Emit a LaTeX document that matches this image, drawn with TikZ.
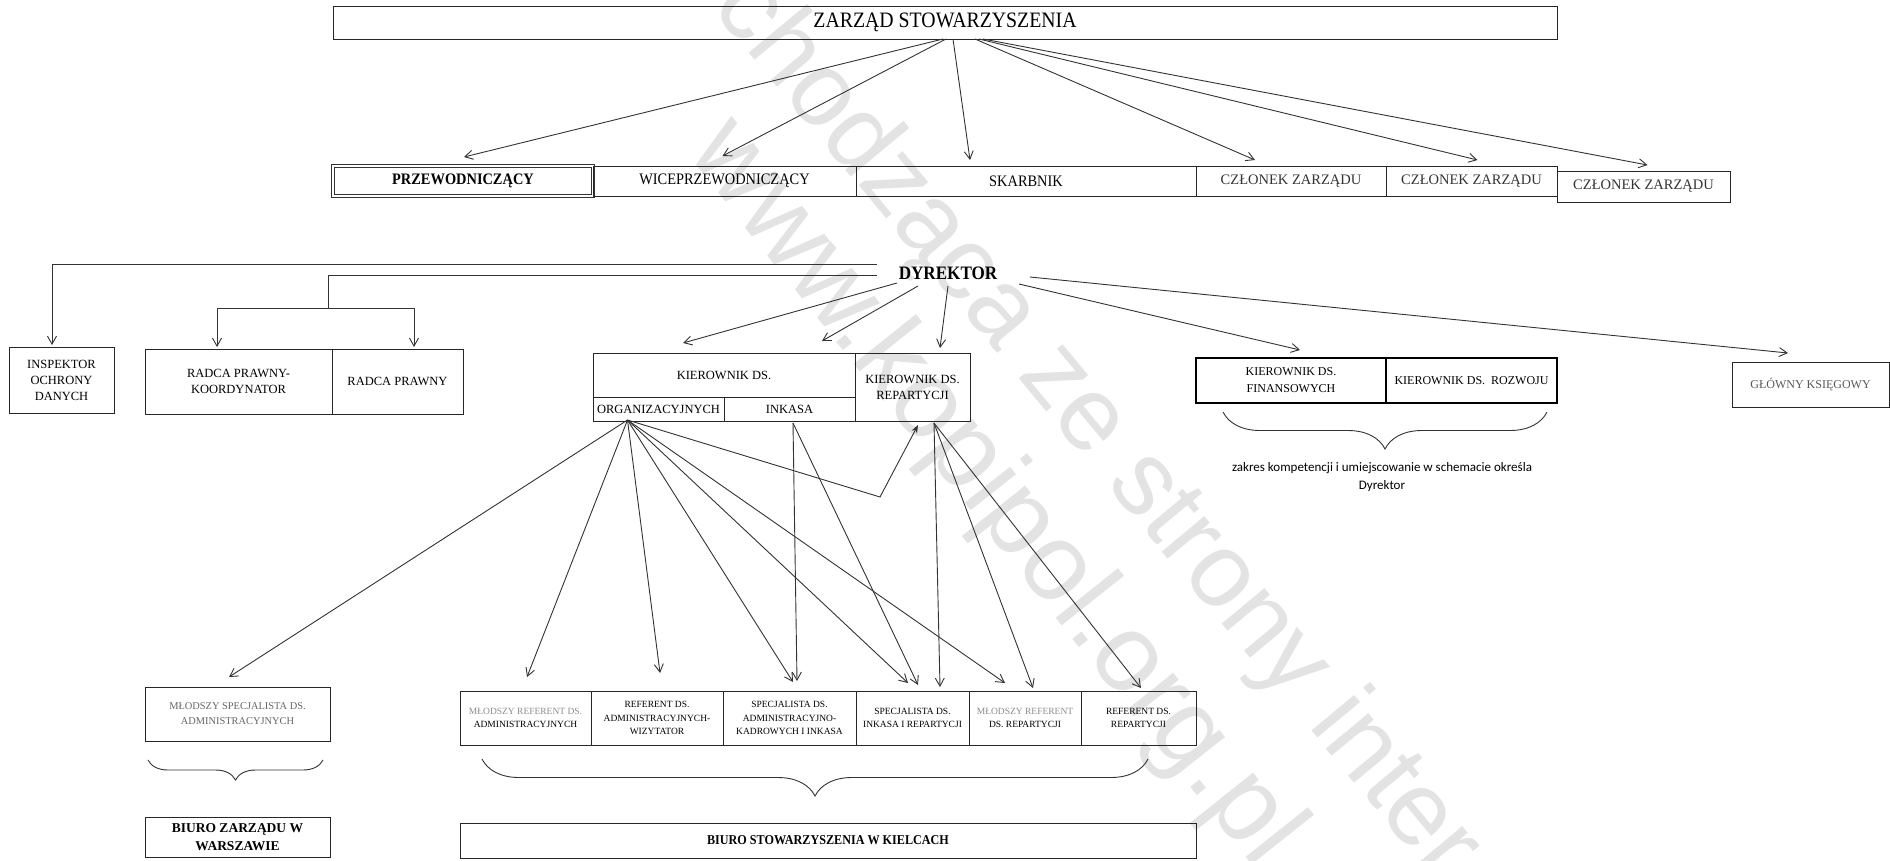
\documentclass[tikz,border=0pt]{standalone}
\usepackage{fontspec}
\setmainfont{Liberation Serif}
\newfontfamily\cond[FakeStretch=0.9]{Liberation Serif}
\newfontfamily\calib{Carlito}
\newfontfamily\wmfont{Liberation Sans}
\usetikzlibrary{arrows.meta,calc,decorations.pathreplacing}
\begin{document}
\begin{tikzpicture}[x=1pt,y=-1pt,
  ln/.style={line width=0.9pt, draw=black!80},
  arr/.style={ln, -{Straight Barb[length=8pt,width=9pt]}},
  farr/.style={ln, -{Stealth[length=8pt,width=6pt]}},
  box/.style={draw=black!85, line width=0.9pt, inner sep=0pt, outer sep=0pt, align=center, anchor=north west},
  thick box/.style={box, line width=2pt, draw=black},
  dbl box/.style={box, double=white, double distance=1.6pt, line width=0.9pt, draw=black!80},
  bigtxt/.style={font=\cond\fontsize{22}{26}\selectfont},
  rowtxt/.style={font=\cond\fontsize{16}{19}\selectfont},
  midtxt/.style={font=\fontsize{12.5}{16}\selectfont},
  smtxt/.style={font=\fontsize{9.5}{13.5}\selectfont},
  brc/.style={ln, decorate},
  wm/.style={text=gray!22, inner sep=0pt}
]
\useasboundingbox[fill=white] (0,0) rectangle (1890,860);

% watermark
\node[wm, font=\wmfont\fontsize{105}{105}\selectfont, rotate=-50.3] (wma) at (1095,428) {chodząca ze strony inter};
\node[wm, font=\wmfont\fontsize{110}{110}\selectfont, rotate=-51.5] (wmb) at (994,494) {www.kopipol.org.pl};

% top level
\node[box, minimum width=1224pt, minimum height=33pt, bigtxt] (zarzad) at (333,6) {ZARZĄD STOWARZYSZENIA};

% board row
\node[dbl box, minimum width=260pt, minimum height=30pt, rowtxt] (p1) at (333,166) {\bfseries PRZEWODNICZĄCY};
\node[box, minimum width=263pt, minimum height=30pt, rowtxt] (p2) at (593,166) {WICEPRZEWODNICZĄCY};
\node[box, minimum width=340pt, minimum height=30pt, rowtxt] (p3) at (856,166) {SKARBNIK};
\node[box, minimum width=190pt, minimum height=30pt, font=\fontsize{14.5}{17}\selectfont, text=black!80] (p4) at (1196,166) {CZŁONEK ZARZĄDU};
\node[box, minimum width=171pt, minimum height=30pt, font=\fontsize{14.5}{17}\selectfont, text=black!80] (p5) at (1386,166) {CZŁONEK ZARZĄDU};
\node[box, minimum width=173pt, minimum height=31pt, font=\fontsize{14.5}{17}\selectfont, text=black!80] (p6) at (1557,171) {CZŁONEK ZARZĄDU};

\draw[arr] ($(zarzad.south)+(-2,0)$) -- ($(p1.north)+(1,-9)$);
\draw[arr] ($(zarzad.south)+(1,0)$) -- ($(p2.north)+(-2,-10)$);
\draw[arr] ($(zarzad.south)+(8,0)$) -- ($(p3.north)+(-56,-6)$);
\draw[arr] ($(zarzad.south)+(30,0)$) -- ($(p4.north)+(-36,-6)$);
\draw[arr] ($(zarzad.south)+(34,0)$) -- ($(p5.north)+(6,-6)$);
\draw[arr] ($(zarzad.south)+(38,0)$) -- ($(p6.north)+(4,-6)$);

% director
\node[font=\cond\bfseries\fontsize{19}{22}\selectfont, inner sep=0pt] (dyr) at (948,273) {DYREKTOR};

% left side
\node[box, minimum width=105pt, minimum height=66pt, midtxt] (insp) at (9,347) {INSPEKTOR\\OCHRONY\\DANYCH};
\node[box, minimum width=187pt, minimum height=65pt, midtxt] (radk) at (145,349) {RADCA PRAWNY-\\KOORDYNATOR};
\node[box, minimum width=131pt, minimum height=65pt, midtxt] (radp) at (332,349) {RADCA PRAWNY};

\coordinate (rj) at (328,308);
\draw[arr] ($(dyr)+(-71,-9)$) -| ($(insp.north)+(-9.5,-2)$);
\draw[ln] ($(dyr)+(-71,2)$) -| (rj);
\draw[arr] (rj) -| ($(radk.north)+(-21.5,-2)$);
\draw[arr] (rj) -| ($(radp.north)+(16.5,-2)$);

% managers
\node[box, minimum width=262pt, minimum height=44pt, midtxt] (kbig) at (593,353) {KIEROWNIK DS.};
\node[box, minimum width=131pt, minimum height=24pt, midtxt] (korg) at (593,397) {ORGANIZACYJNYCH};
\node[box, minimum width=131pt, minimum height=24pt, midtxt] (kink) at (724,397) {INKASA};
\node[box, minimum width=115pt, minimum height=68pt, midtxt] (krep) at (855,353) {KIEROWNIK DS.\\REPARTYCJI};
\node[thick box, minimum width=190pt, minimum height=45pt, font=\fontsize{12}{17}\selectfont] (kfin) at (1196,358) {KIEROWNIK DS.\\FINANSOWYCH};
\node[thick box, minimum width=171pt, minimum height=45pt, font=\fontsize{12}{17}\selectfont] (kroz) at (1386,358) {KIEROWNIK DS.\ \ ROZWOJU};
\node[box, minimum width=157pt, minimum height=45pt, font=\fontsize{12}{17}\selectfont, text=black!65] (ksieg) at (1732,362) {GŁÓWNY KSIĘGOWY};

\draw[arr] ($(dyr)+(-51,10)$) -- ($(kbig.north)+(-41,-10)$);
\draw[arr] ($(dyr)+(-30,13)$) -- ($(kbig.north)+(98,-12)$);
\draw[arr] ($(dyr)+(0,13)$) -- ($(krep.north)+(27.5,-5)$);
\draw[arr] ($(dyr)+(71,11)$) -- ($(kfin.north)+(9,-8)$);
\draw[arr] ($(dyr)+(82,4)$) -- ($(ksieg.north)+(-22.5,-9)$);

\draw[brc, decoration={brace, mirror, amplitude=37pt}] (1223,412) -- (1547,412);
\node[font=\calib\fontsize{13}{18}\selectfont, align=center, inner sep=0pt] (zakres) at (1382,477) {zakres kompetencji i umiejscowanie w schemacie określa\\Dyrektor};

% staff row
\node[box, minimum width=185pt, minimum height=54pt, font=\fontsize{10.4}{15}\selectfont, text=black!60] (spec) at (145,687) {MŁODSZY SPECJALISTA DS.\\ADMINISTRACYJNYCH};
\node[box, minimum width=131pt, minimum height=54pt, smtxt] (b1) at (460,691) {\textcolor{black!45}{MŁODSZY REFERENT DS.}\\ADMINISTRACYJNYCH};
\node[box, minimum width=132pt, minimum height=54pt, smtxt] (b2) at (591,691) {REFERENT DS.\\ADMINISTRACYJNYCH-\\WIZYTATOR};
\node[box, minimum width=133pt, minimum height=54pt, smtxt] (b3) at (723,691) {SPECJALISTA DS.\\ADMINISTRACYJNO-\\KADROWYCH I INKASA};
\node[box, minimum width=113pt, minimum height=54pt, smtxt] (b4) at (856,691) {SPECJALISTA DS.\\INKASA I REPARTYCJI};
\node[box, minimum width=112pt, minimum height=54pt, smtxt] (b5) at (969,691) {\textcolor{black!45}{MŁODSZY REFERENT}\\DS. REPARTYCJI};
\node[box, minimum width=115pt, minimum height=54pt, smtxt] (b6) at (1081,691) {REFERENT DS.\\REPARTYCJI};

\coordinate (O) at ($(korg.south)+(-31,-1)$);
\coordinate (I) at ($(kink.south)+(3.5,2)$);
\coordinate (R) at ($(krep.south)+(21.5,2)$);
\coordinate (elb) at (880,497);

\draw[arr] (O) -- ($(spec.north)+(-8.5,-10)$);
\draw[arr] (O) -- ($(b1.north)+(1.5,-14)$);
\draw[arr] (O) -- ($(b2.north)+(3,-18)$);
\draw[arr] (O) -- ($(b3.north)+(3.5,-9)$);
\draw[arr] (O) -- ($(b4.north)+(-4.5,-8)$);
\draw[arr] (O) -- ($(b5.north)+(-20,-8)$);
\draw[farr] (O) -- (elb) -- ($(krep.south)+(5.5,4)$);
\draw[arr] (I) -- ($(b3.north)+(7.5,-10)$);
\draw[arr] (I) -- ($(b4.north)+(5.5,-6)$);
\draw[arr] (R) -- ($(b4.north)+(27.5,-4)$);
\draw[arr] (R) -- ($(b5.north)+(8,-3)$);
\draw[arr] (R) -- ($(b6.north)+(2.5,-3)$);

\draw[brc, decoration={brace, mirror, amplitude=20pt}] (148,760) -- (323,760);
\draw[brc, decoration={brace, mirror, amplitude=37pt}] (482,759) -- (1148,759);

% offices
\node[box, minimum width=185pt, minimum height=40pt, font=\bfseries\fontsize{13.5}{18}\selectfont] (bwar) at (145,817) {BIURO ZARZĄDU W\\WARSZAWIE};
\node[box, minimum width=736pt, minimum height=35pt, font=\cond\bfseries\fontsize{13.5}{16}\selectfont] (bkiel) at (460,823) {BIURO STOWARZYSZENIA W KIELCACH};
\end{tikzpicture}
\end{document}
